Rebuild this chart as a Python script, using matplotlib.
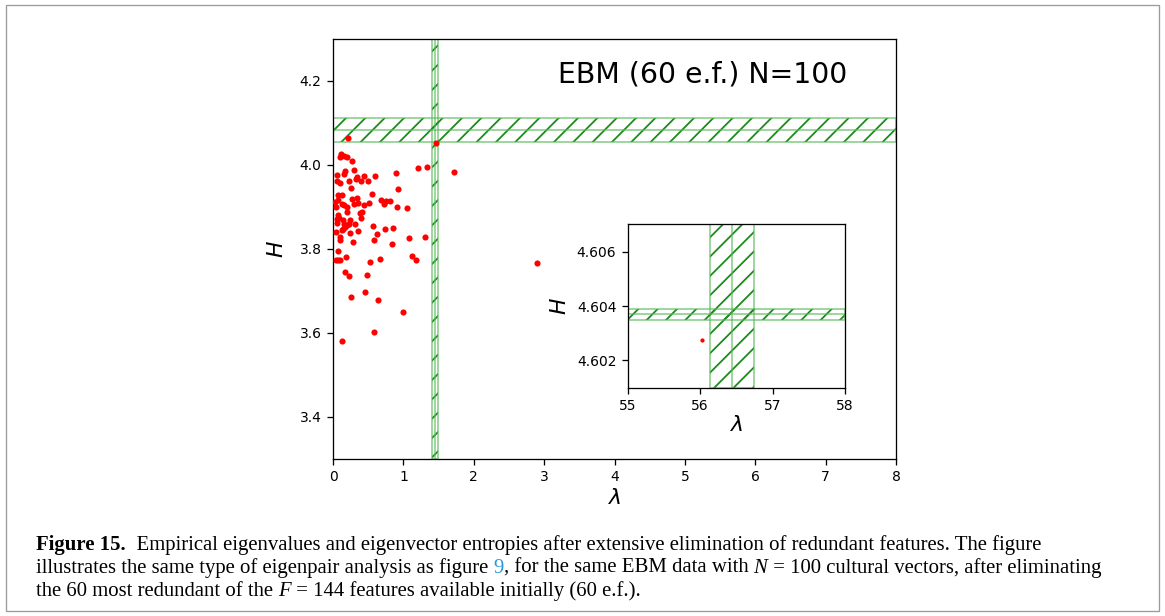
import numpy as np
import matplotlib
matplotlib.use("Agg")
import matplotlib.pyplot as plt
from matplotlib.patches import Rectangle

# eigenvalues (lambda) and eigenvector entropies (H)
lam = [0.209, 1.463, 0.114, 0.095, 0.156, 0.199, 0.275, 1.207, 1.335, 1.714,
       0.062, 0.175, 0.152, 0.303, 0.900, 0.436, 0.336, 0.322, 0.601, 0.062,
       0.104, 0.227, 0.393, 0.497, 0.260, 0.928, 0.076, 0.133, 0.554, 0.028,
       0.076, 0.047, 0.123, 0.152, 0.194, 0.270, 0.336, 0.298, 0.355, 0.436,
       0.511, 0.677, 0.729, 0.757, 0.810, 0.914, 1.051, 0.204, 0.384, 0.417,
       0.393, 0.071, 0.080, 0.057, 0.142, 0.241, 0.057, 0.156, 0.170, 0.137,
       0.194, 0.232, 0.313, 0.563, 0.743, 0.857, 0.038, 0.123, 0.355, 0.241,
       0.630, 0.095, 0.104, 0.587, 1.080, 1.311, 0.289, 0.838, 0.076, 0.038,
       0.076, 0.095, 0.180, 0.668, 0.530, 1.122, 1.179, 0.170, 0.222, 0.488,
       0.459, 0.251, 0.639, 0.994, 0.587, 0.128, 2.900, 56.03]
ent = [4.065, 4.053, 4.027, 4.018, 4.021, 4.020, 4.009, 3.993, 3.996, 3.984,
       3.977, 3.986, 3.979, 3.987, 3.982, 3.975, 3.972, 3.967, 3.974, 3.962,
       3.957, 3.963, 3.961, 3.962, 3.946, 3.944, 3.929, 3.929, 3.931, 3.913,
       3.916, 3.899, 3.906, 3.904, 3.899, 3.920, 3.921, 3.906, 3.909, 3.905,
       3.910, 3.916, 3.908, 3.914, 3.914, 3.899, 3.897, 3.888, 3.885, 3.887,
       3.875, 3.880, 3.874, 3.871, 3.870, 3.869, 3.863, 3.860, 3.853, 3.848,
       3.856, 3.859, 3.860, 3.855, 3.848, 3.850, 3.841, 3.845, 3.844, 3.837,
       3.836, 3.828, 3.822, 3.822, 3.827, 3.828, 3.817, 3.811, 3.795, 3.773,
       3.773, 3.774, 3.781, 3.777, 3.770, 3.783, 3.775, 3.745, 3.736, 3.738,
       3.698, 3.685, 3.679, 3.650, 3.602, 3.581, 3.767, 4.60275]

# null-model bands (low, centre, high)
main_lam_band = (1.40, 1.445, 1.49)
main_ent_band = (4.0555, 4.083, 4.111)
ins_lam_band = (56.14, 56.44, 56.75)
ins_ent_band = (4.60347, 4.60371, 4.6039)

edge_col = (0.35, 0.72, 0.35, 0.7)
hatch_col = '#1a8a1a'


def bands(ax, xb, yb):
    ax.axvspan(xb[0], xb[2], facecolor='none', edgecolor=hatch_col, hatch='//', lw=0)
    ax.axvspan(xb[0], xb[2], facecolor='none', edgecolor=edge_col, lw=1.0)
    ax.axvline(xb[1], color=edge_col, lw=1.0)
    ax.axhspan(yb[0], yb[2], facecolor='none', edgecolor=hatch_col, hatch='//', lw=0)
    ax.axhspan(yb[0], yb[2], facecolor='none', edgecolor=edge_col, lw=1.0)
    ax.axhline(yb[1], color=edge_col, lw=1.0)


plt.rcParams['hatch.linewidth'] = 1.1
W, Hpx = 1165, 616
fig = plt.figure(figsize=(10, Hpx / 116.5), dpi=116.5)

ax = fig.add_axes([333 / W, 1 - 459 / Hpx, 563 / W, 420 / Hpx])
bands(ax, main_lam_band, main_ent_band)
ax.plot(lam, ent, 'o', color='red', ms=3.8, mew=0, zorder=3)
ax.set_xlim(0, 8)
ax.set_ylim(3.3, 4.3)
ax.set_yticks([3.4, 3.6, 3.8, 4.0, 4.2])
ax.tick_params(labelsize=8.6)
ax.set_xlabel(r'$\lambda$', fontsize=13.5, labelpad=2)
ax.set_ylabel(r'$H$', fontsize=13.5, labelpad=8)
ax.text(0.657, 0.915, 'EBM (60 e.f.) N=100', transform=ax.transAxes,
        fontsize=17.5, ha='center', va='center')

ins = fig.add_axes([627.7 / W, 1 - 387.7 / Hpx, 217.3 / W, 163.4 / Hpx])
bands(ins, ins_lam_band, ins_ent_band)
ins.plot(lam, ent, 'o', color='red', ms=2.6, mew=0, zorder=3)
ins.set_xlim(55, 58)
ins.set_ylim(4.601, 4.607)
ins.set_xticks([55, 56, 57, 58])
ins.set_yticks([4.602, 4.604, 4.606])
ins.tick_params(labelsize=8.6)
ins.set_xlabel(r'$\lambda$', fontsize=13.5, labelpad=1)
ins.set_ylabel(r'$H$', fontsize=13.5, labelpad=4)

# frame round the figure
fig.add_artist(Rectangle((6 / W, 5 / Hpx), 1153 / W, 606 / Hpx,
                         transform=fig.transFigure, fill=False,
                         edgecolor='#9a9a9a', lw=0.8))

# caption, pieces placed one after another on a shared baseline
cfs = 12.8
serif = 'Liberation Serif'
renderer = fig.canvas.get_renderer()


def caption_line(pieces, x_px, base_px):
    x = x_px
    for txt, kw in pieces:
        t = fig.text(x / W, 1 - base_px / Hpx, txt, fontsize=cfs, family=serif,
                     va='baseline', ha='left', **kw)
        x = t.get_window_extent(renderer).x1


caption_line([('Figure 15.', dict(weight='bold')),
              ('  Empirical eigenvalues and eigenvector entropies after extensive '
               'elimination of redundant features. The figure', {})], 36, 550)
caption_line([('illustrates the same type of eigenpair analysis as figure ', {}),
              ('9', dict(color='#2a9bd8')),
              (', for the same EBM data with ', {}),
              ('N', dict(style='italic')),
              (' = 100 cultural vectors, after eliminating', {})], 36, 573)
caption_line([('the 60 most redundant of the ', {}),
              ('F', dict(style='italic')),
              (' = 144 features available initially (60 e.f.).', {})], 36, 596)

fig.savefig('out.png', dpi=116.5)
